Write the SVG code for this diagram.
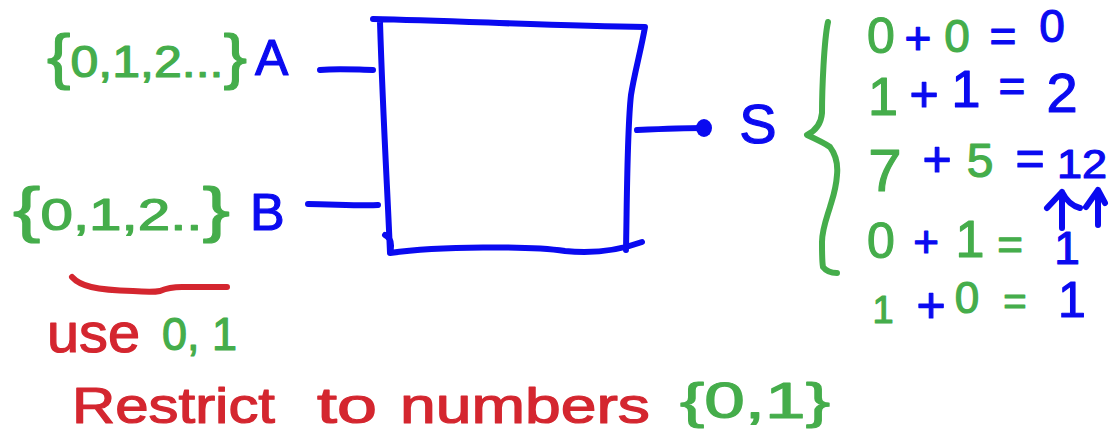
<svg xmlns="http://www.w3.org/2000/svg" width="1109" height="434" viewBox="0 0 1109 434">
<style>
.t{font-family:"Liberation Sans","DejaVu Sans",sans-serif;stroke-linejoin:round;stroke-linecap:round}
.b{fill:#0a0af0;stroke:#0a0af0;stroke-width:1.2}
.g{fill:#45ad4b;stroke:#45ad4b;stroke-width:1.2}
.r{fill:#d4262f;stroke:#d4262f;stroke-width:1.2}
.eq text{text-anchor:middle}
.ln{fill:none;stroke-linecap:round;stroke-linejoin:round;stroke-width:6}
.lb{stroke:#0a0af0}
.lg{stroke:#45ad4b}
.lr{stroke:#d4262f}
</style>
<defs>
<marker id="blob" viewBox="0 0 20 20" refX="8" refY="10" markerWidth="20" markerHeight="20" markerUnits="userSpaceOnUse" orient="auto">
<ellipse cx="10" cy="10" rx="8" ry="9" fill="#0a0af0"/>
</marker>
</defs>
<rect width="1109" height="434" fill="#ffffff"/>

<g id="box">
<path class="ln lb" d="M373,19 C460,21 560,26 645,27 C641,50 634,75 631,95 C627,130 627,200 626,250 M642,242 C620,250 595,254 565,251 C530,246 440,246 390,253 C392,245 391,238 385,235 M390,253 C388,200 383,120 380,22"/>
</g>

<g id="connectors">
<path class="ln lb" d="M320,70 C340,68 360,70 373,70"/>
<path class="ln lb" d="M308,204 C330,204 360,206 378,205"/>
<path class="ln lb" d="M637,130 C660,129 685,128 702,128" marker-end="url(#blob)"/>
<path class="ln lb" d="M1062,228 L1062,192 M1047,208 L1062,192 C1066,200 1072,206 1080,208"/>
<path class="ln lb" d="M1098,225 L1098,190 M1086,207 L1098,190 L1105,203"/>
</g>

<g id="input-a">
<text class="t g" x="47" y="77" font-size="44" textLength="200" lengthAdjust="spacingAndGlyphs"><tspan font-size="62">{</tspan>0,1,2...<tspan font-size="62">}</tspan></text>
<text class="t b" x="255" y="75" font-size="50">A</text>
</g>

<g id="input-b">
<text class="t g" x="13" y="230" font-size="44" textLength="217" lengthAdjust="spacingAndGlyphs"><tspan font-size="62">{</tspan>0,1,2..<tspan font-size="62">}</tspan></text>
<text class="t b" x="250" y="230" font-size="52">B</text>
</g>

<g id="use-note">
<path class="ln lr" d="M72,277 C80,286 95,290 133,291 C145,292 155,292 160,291 C167,288 172,287 182,287 C200,287 215,287 227,287"/>
<text class="t r" x="47" y="352" font-size="56" textLength="93" lengthAdjust="spacingAndGlyphs">use</text>
<text class="t g" x="162" y="350" font-size="46" textLength="75" lengthAdjust="spacingAndGlyphs">0, 1</text>
</g>

<g id="restrict-note">
<text class="t r" x="72" y="423" font-size="50" textLength="203" lengthAdjust="spacingAndGlyphs">Restrict</text>
<text class="t r" x="317" y="423" font-size="50" textLength="60" lengthAdjust="spacingAndGlyphs">to</text>
<text class="t r" x="400" y="423" font-size="50" textLength="250" lengthAdjust="spacingAndGlyphs">numbers</text>
<text class="t g" x="680" y="418" font-size="50" textLength="150" lengthAdjust="spacingAndGlyphs">{0,1}</text>
</g>

<g id="output-s">
<text class="t b" x="758" y="143" font-size="56" text-anchor="middle">S</text>
</g>

<g id="examples">
<path class="ln lg" d="M828,22 C824,40 822,90 822,113 C821,125 815,131 807,135 C818,140 826,144 830,147 C836,155 838,165 837,175 C836,190 832,200 830,207 C826,220 822,230 822,242 C822,255 822,262 823,267 C826,271 832,273 837,273"/>
<g class="eq">
<text class="t g" x="881" y="53" font-size="50">0</text>
<text class="t b" x="918" y="54" font-size="46">+</text>
<text class="t g" x="957" y="52" font-size="46">0</text>
<text class="t b" x="1003" y="52" font-size="46">=</text>
<text class="t b" x="1052" y="42" font-size="46">0</text>

<text class="t g" x="883" y="115" font-size="54">1</text>
<text class="t b" x="924" y="111" font-size="50">+</text>
<text class="t b" x="966" y="107" font-size="52">1</text>
<text class="t b" x="1012" y="102" font-size="46">=</text>
<text class="t b" x="1062" y="112" font-size="56">2</text>

<text class="t g" x="885" y="191" font-size="60">7</text>
<text class="t b" x="937" y="176" font-size="50">+</text>
<text class="t g" x="980" y="177" font-size="48">5</text>
<text class="t b" x="1030" y="175" font-size="50">=</text>
<text class="t b" x="1082" y="178" font-size="40" textLength="50" lengthAdjust="spacingAndGlyphs">12</text>

<text class="t g" x="881" y="258" font-size="50">0</text>
<text class="t b" x="926" y="257" font-size="44">+</text>
<text class="t g" x="970" y="257" font-size="52">1</text>
<text class="t g" x="1010" y="260" font-size="44">=</text>
<text class="t b" x="1067" y="264" font-size="46">1</text>

<text class="t g" x="883" y="323" font-size="38">1</text>
<text class="t b" x="931" y="322" font-size="50">+</text>
<text class="t g" x="967" y="313" font-size="44">0</text>
<text class="t g" x="1015" y="315" font-size="40">=</text>
<text class="t b" x="1072" y="317" font-size="50">1</text>
</g>
</g>
</svg>
